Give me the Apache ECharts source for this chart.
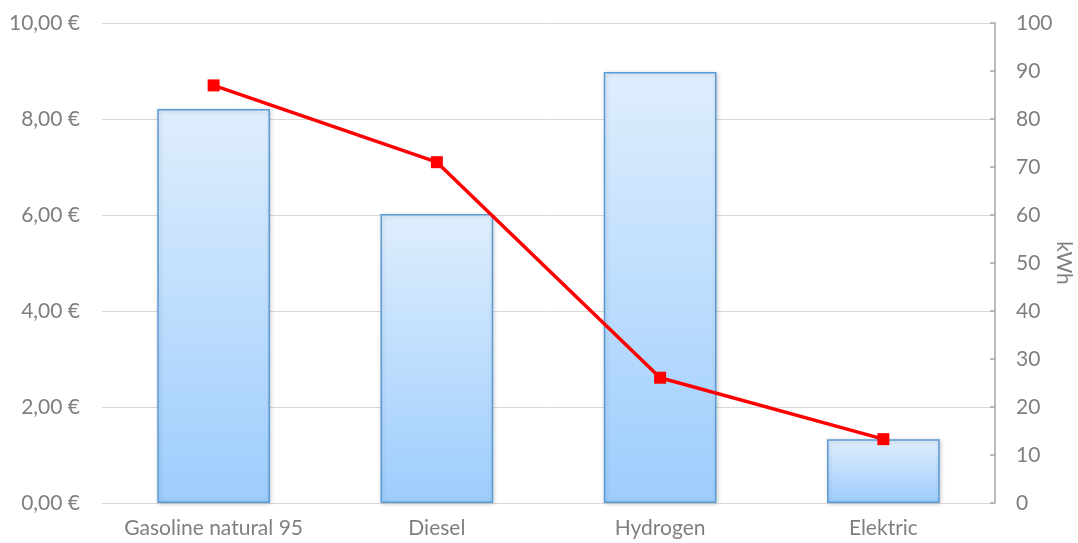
<!DOCTYPE html>
<html>
<head>
<meta charset="utf-8">
<script src="https://cdn.jsdelivr.net/npm/echarts@6/dist/echarts.min.js"></script>
<style>
  html, body { margin: 0; padding: 0; background: #ffffff; overflow: hidden; }
  #chart { width: 1078px; height: 543px; }
</style>
</head>
<body>
<div id="chart"></div>
<script>
// Fuel types compared: cost (€) as bars, energy (kWh) as a line
const categories = ['Gasoline natural 95', 'Diesel', 'Hydrogen', 'Elektric'];
const costEuro = [8.21, 6.02, 8.98, 1.33];
const energyKwh = [87, 71, 26.1, 13.3];

const FONT = 'Lato, "Open Sans", sans-serif';
const LABEL_GREY = '#7f7f7f';

const chart = echarts.init(document.getElementById('chart'), null, { renderer: 'canvas' });

chart.setOption({
  animation: false,
  backgroundColor: '#ffffff',
  grid: { left: 102, right: 83, top: 23, bottom: 40, containLabel: false, outerBoundsMode: 'none' },
  xAxis: {
    type: 'category',
    data: categories,
    axisLine: { show: true, lineStyle: { color: '#d9d9d9', width: 1 } },
    axisTick: { show: false },
    axisLabel: { color: LABEL_GREY, fontFamily: FONT, fontSize: 21, margin: 15, interval: 0, hideOverlap: false }
  },
  yAxis: [
    {
      type: 'value',
      min: 0, max: 10, interval: 2,
      axisLine: { show: false },
      axisTick: { show: false },
      splitLine: { show: true, lineStyle: { color: '#d9d9d9', width: 1 } },
      axisLabel: {
        color: LABEL_GREY, fontFamily: FONT, fontSize: 21, margin: 22,
        formatter: v => v.toFixed(2).replace('.', ',') + ' €'
      }
    },
    {
      type: 'value',
      position: 'right',
      min: 0, max: 100, interval: 10,
      name: 'kWh',
      nameLocation: 'middle',
      nameGap: 58,
      nameRotate: -90,
      nameMoveOverlap: false,
      nameTextStyle: { color: LABEL_GREY, fontFamily: FONT, fontSize: 21 },
      axisLine: { show: true, lineStyle: { color: '#a6a6a6', width: 1.5 } },
      axisTick: { show: true, inside: true, length: 5, lineStyle: { color: '#a6a6a6', width: 1.5 } },
      splitLine: { show: false },
      axisLabel: { color: LABEL_GREY, fontFamily: FONT, fontSize: 21, margin: 21 }
    }
  ],
  series: [
    {
      name: 'Cost',
      type: 'bar',
      yAxisIndex: 0,
      data: costEuro,
      barWidth: '50.5%',
      itemStyle: {
        color: new echarts.graphic.LinearGradient(0, 0, 0, 1, [
          { offset: 0, color: '#dfeefd' },
          { offset: 1, color: '#9dcdfd' }
        ]),
        borderColor: '#5b9bd5',
        borderWidth: 1.5,
        shadowColor: 'rgba(0,0,0,0.18)',
        shadowBlur: 4,
        shadowOffsetX: 1,
        shadowOffsetY: 1
      },
      z: 2
    },
    {
      name: 'Energy',
      type: 'line',
      yAxisIndex: 1,
      data: energyKwh,
      symbol: 'rect',
      symbolSize: 12,
      lineStyle: { color: '#ff0000', width: 3.5 },
      itemStyle: { color: '#ff0000' },
      z: 3
    }
  ]
});
</script>
</body>
</html>
